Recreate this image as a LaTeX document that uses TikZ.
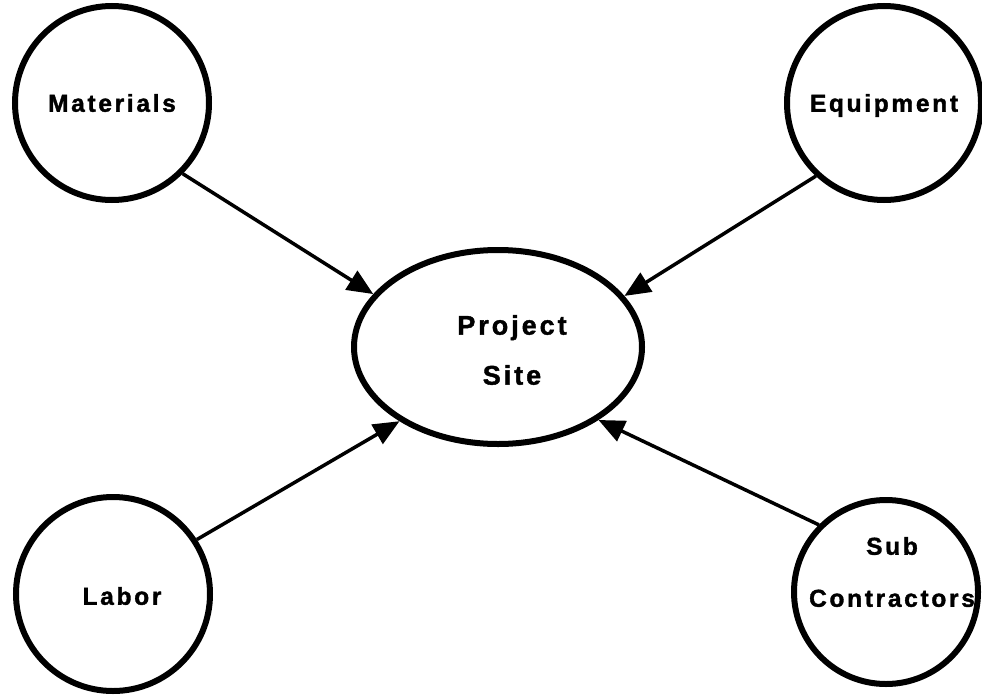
\documentclass[tikz,border=0pt]{standalone}
\usepackage{fontspec}
\setmainfont{Liberation Sans}
\newfontfamily\poolfont[LetterSpace=11, BoldFeatures={FakeBold=1.5}]{Liberation Sans}
\usetikzlibrary{arrows.meta}
\usetikzlibrary{shapes.geometric}
\usetikzlibrary{positioning}
\tikzset {
  % resource pool
  pool/.style = {
    draw = black,
    circle,
    line width = 6pt,
    minimum size = 194pt,
    inner sep = 0,
    font = \poolfont\bfseries\fontsize{24.5}{52}\selectfont,
    text height = 17.5pt,
    text depth = 0pt
  },
  % the site all pools feed
  site/.style = {
    draw = black,
    ellipse,
    line width = 6pt,
    minimum width = 288pt,
    minimum height = 194pt,
    inner sep = 0
  },
  pool text/.style = {
    align = center,
    inner sep = 0,
    font = \poolfont\bfseries\fontsize{24.5}{52}\selectfont
  },
  site text/.style = {
    align = center,
    inner sep = 0,
    font = \poolfont\bfseries\fontsize{27}{50}\selectfont
  },
  feed/.style = {
    draw = black,
    line width = 3.5pt,
    -{Triangle[length=26pt,width=22pt]}
  }
}

\begin{document}
\begin{tikzpicture}[x=1pt, y=1pt]
    \useasboundingbox (0,0) rectangle (982,-696);

    \node[site] (site) at (498,-347) {};
    \node[site text] (site-txt) at (512,-350) {Project\\Site};

    \node[pool] (materials) at (112,-103) {Materials};
    \node[pool] (equipment) at (884,-103) {Equipment};
    \node[pool] (labor) at (113,-594) {};
    \node[pool text] (labor-txt) at (122,-596) {Labor};
    \node[pool, minimum size = 184pt] (sub) at (886,-592) {};
    \node[pool text] (sub-txt) at (892,-572) {Sub\\Contractors};

    \draw[feed] (materials.-45) -- (site.157);
    \draw[feed] (equipment.-133) -- (site.22);
    \draw[feed] (labor.33) -- (site.217);
    \draw[feed] (sub.135) -- (site.-36);
\end{tikzpicture}
\end{document}
